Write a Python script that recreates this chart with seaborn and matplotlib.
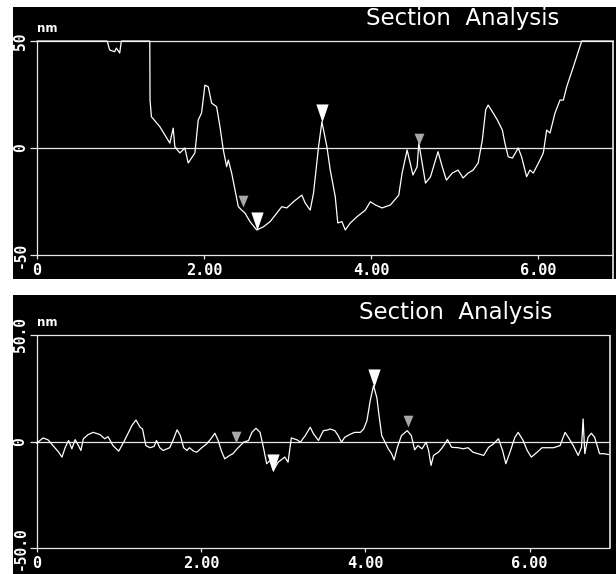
import numpy as np
import pandas as pd
import matplotlib
matplotlib.use("Agg")
import matplotlib.pyplot as plt
import seaborn as sns

# ---------------- data ----------------
top_x = [0.00, 0.84, 0.87, 0.93, 0.95, 0.99, 1.01, 1.35, 1.353, 1.37, 1.47, 1.59, 1.63, 1.65, 1.71, 1.77,
         1.81, 1.89, 1.93, 1.97, 2.01, 2.05, 2.09, 2.15, 2.19, 2.23, 2.27, 2.29, 2.33, 2.37, 2.41,
         2.45, 2.49, 2.55, 2.63, 2.71, 2.79, 2.87, 2.93, 2.99, 3.07, 3.17, 3.21, 3.27, 3.31, 3.37,
         3.41, 3.47, 3.51, 3.57, 3.60, 3.65, 3.69, 3.75, 3.83, 3.93, 3.99, 4.05, 4.13, 4.23, 4.33,
         4.37, 4.43, 4.50, 4.55, 4.57, 4.61, 4.65, 4.71, 4.80, 4.85, 4.90, 4.97, 5.04, 5.10, 5.16,
         5.22, 5.28, 5.33, 5.37, 5.40, 5.45, 5.51, 5.57, 5.60, 5.64, 5.69, 5.76, 5.80, 5.86, 5.90,
         5.94, 6.02, 6.06, 6.10, 6.14, 6.20, 6.26, 6.30, 6.34, 6.42, 6.52, 6.90]
top_y = [50, 50, 45.8, 45.0, 46.7, 44.4, 50, 50, 22.4, 14.6, 10.0, 2.3, 9.3, 0.6, -2.3, 0.0,
         -7.0, -2.3, 13.1, 16.4, 29.4, 28.6, 21.0, 19.3, 10.0, -0.9, -8.7, -5.6, -11.7, -19.6, -27.4,
         -29.0, -30.4, -34.4, -38.3, -36.8, -34.4, -30.4, -27.4, -28.0, -25.1, -22.0, -25.7, -29.0, -21.0, 0.6,
         12.3, 0.6, -10.3, -22.8, -35.0, -34.4, -38.3, -35.0, -32.1, -29.0, -25.1, -26.6, -28.0, -26.6, -22.0,
         -11.7, -0.9, -12.6, -8.7, 2.3, -7.0, -16.4, -13.4, -1.7, -8.7, -15.0, -11.7, -10.3, -14.0, -11.7,
         -10.3, -7.0, 3.7, 17.8, 20.1, 17.0, 13.1, 8.4, 2.3, -4.1, -4.7, 0.0, -4.1, -13.4, -10.3,
         -11.7, -5.6, -2.3, 8.4, 7.0, 16.4, 22.4, 22.4, 28.6, 38.0, 50, 50]

bot_x = [0.00, 0.08, 0.14, 0.20, 0.27, 0.31, 0.35, 0.39, 0.43, 0.47, 0.51, 0.54, 0.57, 0.63, 0.69,
         0.77, 0.83, 0.87, 0.93, 1.00, 1.06, 1.12, 1.16, 1.21, 1.26, 1.29, 1.33, 1.38, 1.43, 1.46,
         1.50, 1.54, 1.62, 1.66, 1.71, 1.75, 1.79, 1.83, 1.86, 1.91, 1.95, 2.01, 2.07, 2.13, 2.17,
         2.21, 2.25, 2.29, 2.35, 2.39, 2.44, 2.48, 2.52, 2.58, 2.62, 2.67, 2.72, 2.76, 2.80, 2.84,
         2.88, 2.94, 3.02, 3.06, 3.10, 3.17, 3.21, 3.27, 3.33, 3.37, 3.43, 3.49, 3.55, 3.57, 3.63,
         3.67, 3.71, 3.75, 3.81, 3.87, 3.94, 3.98, 4.02, 4.06, 4.10, 4.14, 4.17, 4.20, 4.24, 4.28,
         4.32, 4.35, 4.39, 4.44, 4.51, 4.56, 4.60, 4.64, 4.69, 4.74, 4.77, 4.80, 4.83, 4.89, 4.94,
         5.00, 5.05, 5.13, 5.19, 5.25, 5.31, 5.37, 5.44, 5.50, 5.56, 5.62, 5.67, 5.71, 5.76, 5.82,
         5.86, 5.92, 5.97, 6.02, 6.09, 6.15, 6.21, 6.29, 6.37, 6.43, 6.47, 6.53, 6.59, 6.63, 6.65,
         6.67, 6.71, 6.75, 6.79, 6.85, 6.90, 6.96]
bot_y = [-0.8, 1.7, 0.8, -1.9, -5.0, -7.3, -2.7, 0.5, -3.4, 0.9, -1.9, -4.2, 1.3, 3.3, 4.3,
         3.3, 1.3, 2.3, -1.9, -4.5, -0.3, 4.3, 7.5, 10.1, 6.7, 5.9, -1.9, -2.9, -2.3, 0.5,
         -2.9, -4.2, -2.9, 0.5, 5.5, 2.8, -2.9, -4.2, -2.9, -4.5, -5.0, -2.9, -1.1, 1.7, 3.9,
         0.5, -4.5, -8.1, -6.5, -5.7, -3.4, -1.9, -0.3, 0.5, 4.3, 6.2, 4.3, -2.7, -10.4, -8.9,
         -13.6, -9.7, -7.3, -9.7, 1.7, 0.8, -0.3, 2.8, 6.7, 3.6, 0.5, 5.1, 5.5, 5.9, 5.1,
         2.8, -0.3, 2.0, 3.3, 4.3, 4.3, 5.9, 9.8, 19.2, 26.2, 20.7, 11.4, 2.8, -0.3, -3.4,
         -5.7, -8.6, -2.7, 2.8, 5.1, 2.8, -3.9, -1.9, -3.4, -0.3, -4.2, -11.2, -6.5, -5.0, -2.7,
         0.9, -2.7, -2.9, -3.4, -2.9, -5.0, -5.7, -6.5, -2.7, -1.1, 1.3, -4.2, -10.4, -5.0, 2.0,
         4.3, 0.5, -4.2, -7.3, -5.0, -2.9, -2.9, -2.9, -1.9, 4.3, 2.0, -1.9, -6.5, -2.7, 10.6,
         -5.7, 2.0, 3.9, 2.0, -5.7, -5.7, -6.1]

# cursor markers (x, y of tip)
top_white_x = [2.63, 3.41]
top_white_y = [-38.3, 12.3]
top_gray_x = [2.47, 4.57]
top_gray_y = [-27.4, 1.4]
bot_white_x = [2.88, 4.10]
bot_white_y = [-14.3, 25.4]
bot_gray_x = [2.43, 4.52]
bot_gray_y = [-0.9, 6.7]

xticks = [0, 2, 4, 6]
xtick_labels = ["0", "2.00", "4.00", "6.00"]
top_yticks = [50, 0, -50]
top_ytick_labels = ["50", "0", "-50"]
bot_yticks = [50, 0, -50]
bot_ytick_labels = ["50.0", "0", "-50.0"]
title = "Section  Analysis"
unit = "nm"

# ---------------- style ----------------
sns.set_theme(style="white")
plt.rcParams["font.family"] = ["DejaVu Sans"]

fig = plt.figure(figsize=(6.16, 5.74), dpi=100, facecolor="white")

LC = "#e8e8e8"
tri_down = [(-0.34, 1.0), (0.34, 1.0), (0.0, 0.0), (-0.34, 1.0)]
tri_gray = [(-0.42, 1.0), (0.42, 1.0), (0.0, 0.0), (-0.42, 1.0)]


def panel(rect, xlim, ylim, xr, xs, ys, wx, wy, gx, gy, yt, ytl, rb_bottom):
    ax = fig.add_axes(rect)
    ax.set_facecolor("black")
    for s in ax.spines.values():
        s.set_visible(False)
    # frame / reference lines
    ax.hlines(yt, -0.08, xr, color=LC, lw=0.9)
    ax.vlines(0, -52, 50, color=LC, lw=0.9)
    ax.vlines(xticks[1:], -52, -50, color=LC, lw=0.9)
    ax.vlines(xr, rb_bottom, 50, color=LC, lw=1.2)
    # profile
    df = pd.DataFrame({"x": xs, "y": ys})
    sns.lineplot(data=df, x="x", y="y", ax=ax, color="white", lw=0.9,
                 estimator=None, sort=False, legend=False)
    ax.set_xlim(*xlim)
    ax.set_ylim(*ylim)
    ax.set_xlabel("")
    ax.set_ylabel("")
    ax.set_xticks([])
    ax.set_yticks([])
    # cursors
    ax.plot(gx, gy, linestyle="none", marker=tri_gray, markersize=17,
            color="#a8a8a8", markeredgewidth=0)
    ax.plot(wx, wy, linestyle="none", marker=tri_down, markersize=26,
            color="white", markeredgewidth=0)
    # labels
    for v, t in zip(xticks, xtick_labels):
        ax.text(v, -57, t, color="white", ha="center", va="center",
                fontsize=11, fontweight="bold", family="DejaVu Sans Mono")
    for v, t in zip(yt, ytl):
        ax.text(-0.20, v, t, color="white", ha="center", va="center",
                rotation=90, fontsize=10.5, fontweight="bold",
                family="DejaVu Sans Mono")
    ax.text(0.0, 56, unit, color="white", ha="left", va="center",
            fontsize=8.5, fontweight="bold")
    ax.text(5.10, 60.5, title, color="white", ha="center", va="center",
            fontsize=16.5, family="DejaVu Sans", fontweight="normal")
    return ax


panel([13/616, 1-279/574, 603/616, 272/574], (-0.287, 6.93), (-61.2, 65.9), 6.90,
      top_x, top_y, top_white_x, top_white_y, top_gray_x, top_gray_y,
      top_yticks, top_ytick_labels, -61.2)
panel([13/616, 0.0, 603/616, 279/574], (-0.286, 7.05), (-62.1, 68.7), 6.98,
      bot_x, bot_y, bot_white_x, bot_white_y, bot_gray_x, bot_gray_y,
      bot_yticks, bot_ytick_labels, -50)

fig.savefig("out.png", dpi=100, facecolor="white")
